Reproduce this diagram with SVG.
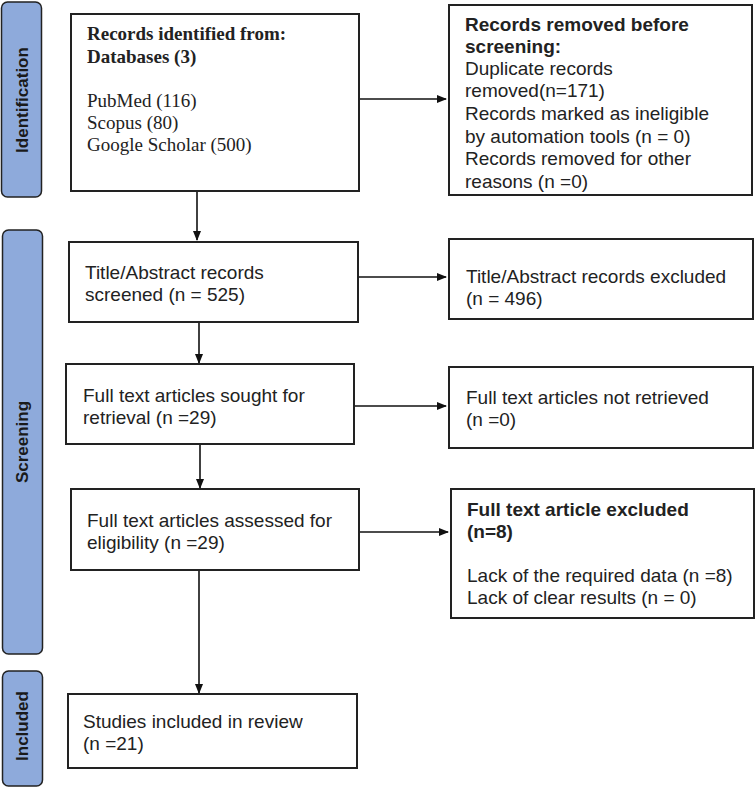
<svg xmlns="http://www.w3.org/2000/svg" width="756" height="790" viewBox="0 0 756 790">
<defs>
<marker id="ah" markerWidth="10" markerHeight="10" refX="9" refY="5" orient="auto" markerUnits="userSpaceOnUse">
<path d="M0,1 L10,5 L0,9 Z" fill="#111"/>
</marker>
<style>
.phase{fill:#8eaadb;stroke:#222;stroke-width:1.5}
.plabel{font-family:"Liberation Sans",Arial,sans-serif;font-weight:bold;font-size:17px;fill:#1a1a1a;text-anchor:middle;dominant-baseline:central}
.box{fill:#fff;stroke:#222;stroke-width:2}
.t{font-family:"Liberation Sans",Arial,sans-serif;font-size:19px;fill:#222}
.tb{font-weight:bold}
.s{font-family:"Liberation Serif","Times New Roman",serif;font-size:19px;fill:#222}
.c{stroke:#111;stroke-width:1.6;fill:none;marker-end:url(#ah)}
</style>
</defs>
<rect width="756" height="790" fill="#fff"/>

<g id="phase-identification">
<rect class="phase" x="1.5" y="2" width="40" height="195" rx="6"/>
<text class="plabel" transform="translate(22,100) rotate(-90)">Identification</text>
</g>
<g id="phase-screening">
<rect class="phase" x="2.5" y="230" width="40" height="424" rx="6"/>
<text class="plabel" transform="translate(22,442) rotate(-90)">Screening</text>
</g>
<g id="phase-included">
<rect class="phase" x="2.5" y="671" width="40" height="115" rx="6"/>
<text class="plabel" transform="translate(22,726) rotate(-90)">Included</text>
</g>

<g id="connectors">
<line class="c" x1="359" y1="99" x2="446" y2="99"/>
<line class="c" x1="197" y1="191" x2="197" y2="240"/>
<line class="c" x1="358" y1="277" x2="446" y2="277"/>
<line class="c" x1="199" y1="322" x2="199" y2="363"/>
<line class="c" x1="354" y1="406" x2="446" y2="406"/>
<line class="c" x1="200" y1="444" x2="200" y2="488"/>
<line class="c" x1="359" y1="532" x2="448" y2="532"/>
<line class="c" x1="199" y1="570" x2="199" y2="693"/>
</g>

<g id="identified">
<rect class="box" x="71" y="14" width="288" height="177"/>
<text class="s tb" x="87" y="40">Records identified from:</text>
<text class="s tb" x="87" y="63">Databases (3)</text>
<text class="s" x="87" y="107">PubMed (116)</text>
<text class="s" x="87" y="129">Scopus (80)</text>
<text class="s" x="87" y="151">Google Scholar (500)</text>
</g>

<g id="removed">
<rect class="box" x="449" y="5" width="303" height="190"/>
<text class="t tb" x="465" y="31">Records removed before</text>
<text class="t tb" x="465" y="53">screening:</text>
<text class="t" x="465" y="75">Duplicate records</text>
<text class="t" x="465" y="97">removed(n=171)</text>
<text class="t" x="465" y="120">Records marked as ineligible</text>
<text class="t" x="465" y="143">by automation tools (n = 0)</text>
<text class="t" x="465" y="165">Records removed for other</text>
<text class="t" x="465" y="188">reasons (n =0)</text>
</g>

<g id="screened">
<rect class="box" x="69" y="242" width="289" height="80"/>
<text class="t" x="85" y="279">Title/Abstract records</text>
<text class="t" x="85" y="301">screened (n = 525)</text>
</g>

<g id="excluded-ta">
<rect class="box" x="449" y="239" width="304" height="80"/>
<text class="t" x="466" y="283">Title/Abstract records excluded</text>
<text class="t" x="466" y="305">(n = 496)</text>
</g>

<g id="sought">
<rect class="box" x="66" y="364" width="288" height="80"/>
<text class="t" x="83" y="402">Full text articles sought for</text>
<text class="t" x="83" y="424">retrieval (n =29)</text>
</g>

<g id="not-retrieved">
<rect class="box" x="449" y="367" width="304" height="81"/>
<text class="t" x="466" y="404">Full text articles not retrieved</text>
<text class="t" x="466" y="426">(n =0)</text>
</g>

<g id="assessed">
<rect class="box" x="71" y="489" width="288" height="81"/>
<text class="t" x="87" y="527">Full text articles assessed for</text>
<text class="t" x="87" y="549">eligibility (n =29)</text>
</g>

<g id="excluded-ft">
<rect class="box" x="451" y="489" width="303" height="129"/>
<text class="t tb" x="467" y="516">Full text article excluded</text>
<text class="t tb" x="467" y="538">(n=8)</text>
<text class="t" x="467" y="582">Lack of the required data (n =8)</text>
<text class="t" x="467" y="604">Lack of clear results (n = 0)</text>
</g>

<g id="included">
<rect class="box" x="68" y="694" width="289" height="74"/>
<text class="t" x="83" y="728">Studies included in review</text>
<text class="t" x="83" y="750">(n =21)</text>
</g>
</svg>
